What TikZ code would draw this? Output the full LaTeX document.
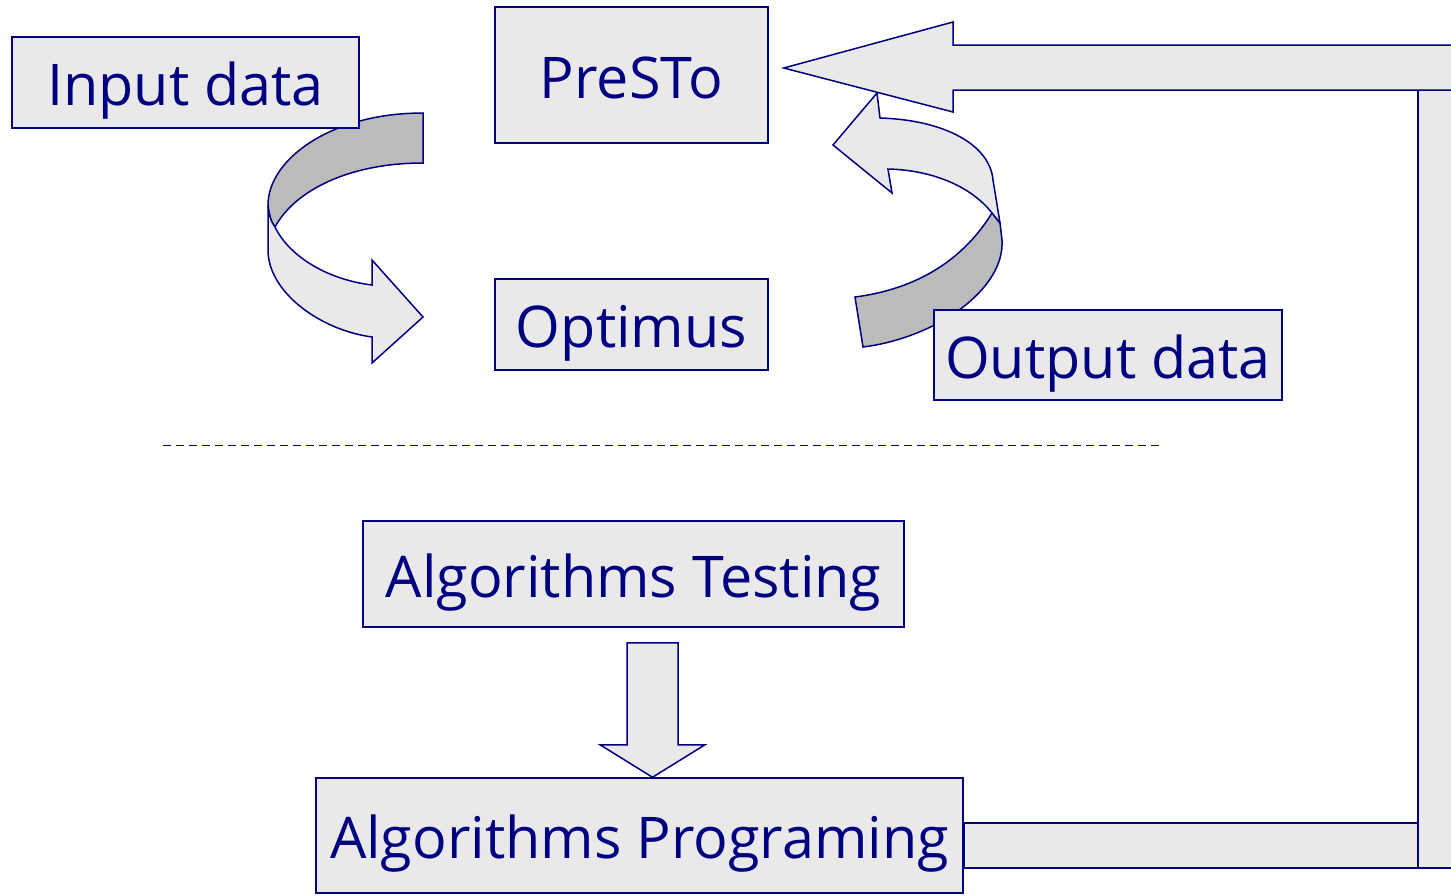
\documentclass[tikz,border=0pt]{standalone}
\usepackage{fontspec}
\setmainfont{Open Sans}
\usetikzlibrary{positioning,calc}
\definecolor{navy}{HTML}{000080}
\definecolor{boxfill}{HTML}{E9E9E9}
\definecolor{foldfill}{HTML}{BBBBBB}

\begin{document}
\begin{tikzpicture}[x=1pt, y=-1pt,
  box/.style={draw=navy, line width=1.5pt, fill=boxfill, text=navy,
              font=\fontsize{57.5}{66}\selectfont, inner sep=0pt,
              text height=51pt, text depth=5pt},
  blk/.style={draw=navy, line width=1.5pt, fill=boxfill, line join=miter},
  fold/.style={blk, fill=foldfill},
  sep/.style={draw=navy, line width=1pt, dash pattern=on 8pt off 5pt}
]
  \clip (0,0) rectangle (1451,895);

  % curved arrow: input -> optimus
  \draw[fold] (423,113) .. controls (330,113) and (268,160) .. (268,205)
              .. controls (269,215) and (271,222) .. (275,227)
              .. controls (295,190) and (350,163) .. (423,163) -- cycle;
  \draw[blk] (268,205) -- (268,250) .. controls (268,292) and (320,330) .. (372,337)
             -- (372,363) -- (423,317) -- (372,260) -- (372,285)
             .. controls (330,280) and (290,258) .. (275,227)
             .. controls (271,222) and (269,215) .. cycle;

  % curved arrow: optimus -> presto
  \draw[fold] (992,213) .. controls (960,265) and (910,290) .. (855,297)
              -- (863,347) .. controls (935,338) and (1005,290) .. (1002,240)
              -- (1000,223) -- cycle;
  \draw[blk] (877,93) -- (880,118) .. controls (945,120) and (990,145) .. (993,180)
             -- (1000,223) -- (992,213)
             .. controls (970,185) and (930,170) .. (888,169)
             -- (892,193) -- (833,145) -- cycle;

  % boxes
  \node[box, minimum width=347pt, minimum height=91pt] (input) at (185.5,82.5) {Input data};
  \node[box, minimum width=273pt, minimum height=136pt] (presto) at (631.5,75) {PreSTo};
  \node[box, minimum width=273pt, minimum height=91pt] (optimus) at (631.5,324.5) {Optimus};
  \node[box, minimum width=348pt, minimum height=90pt] (output) at (1108,355) {Output data};
  \node[box, minimum width=541pt, minimum height=106pt] (test) at (633.5,574) {Algorithms Testing};
  \node[box, minimum width=647pt, minimum height=115pt] (prog) at (639.5,835.5) {Algorithms Programing};

  \draw[sep] (163,445) -- (1160,445);

  % feedback bracket back to PreSTo
  \draw[blk] (1418,90) rectangle (1460,868);
  \draw[blk] ([yshift=12.5pt]prog.east) rectangle (1418,868);
  \draw[blk] (1460,45) -- (953,45) -- (953,22) -- ([xshift=15pt, yshift=7pt]presto.east)
             -- (953,112) -- (953,90) -- (1460,90) -- cycle;

  % testing -> programing
  \coordinate (dtop) at ([xshift=19pt, yshift=-15pt]test.south);
  \coordinate (dtip) at ([xshift=13pt]prog.north);
  \draw[blk] ($(dtop)+(-25.5,0)$) -- ($(dtop)+(25.5,0)$) -- ($(dtop)+(25.5,102)$)
             -- ($(dtop)+(52.5,102)$) -- (dtip) -- ($(dtop)+(-52.5,102)$)
             -- ($(dtop)+(-25.5,102)$) -- cycle;
\end{tikzpicture}
\end{document}
